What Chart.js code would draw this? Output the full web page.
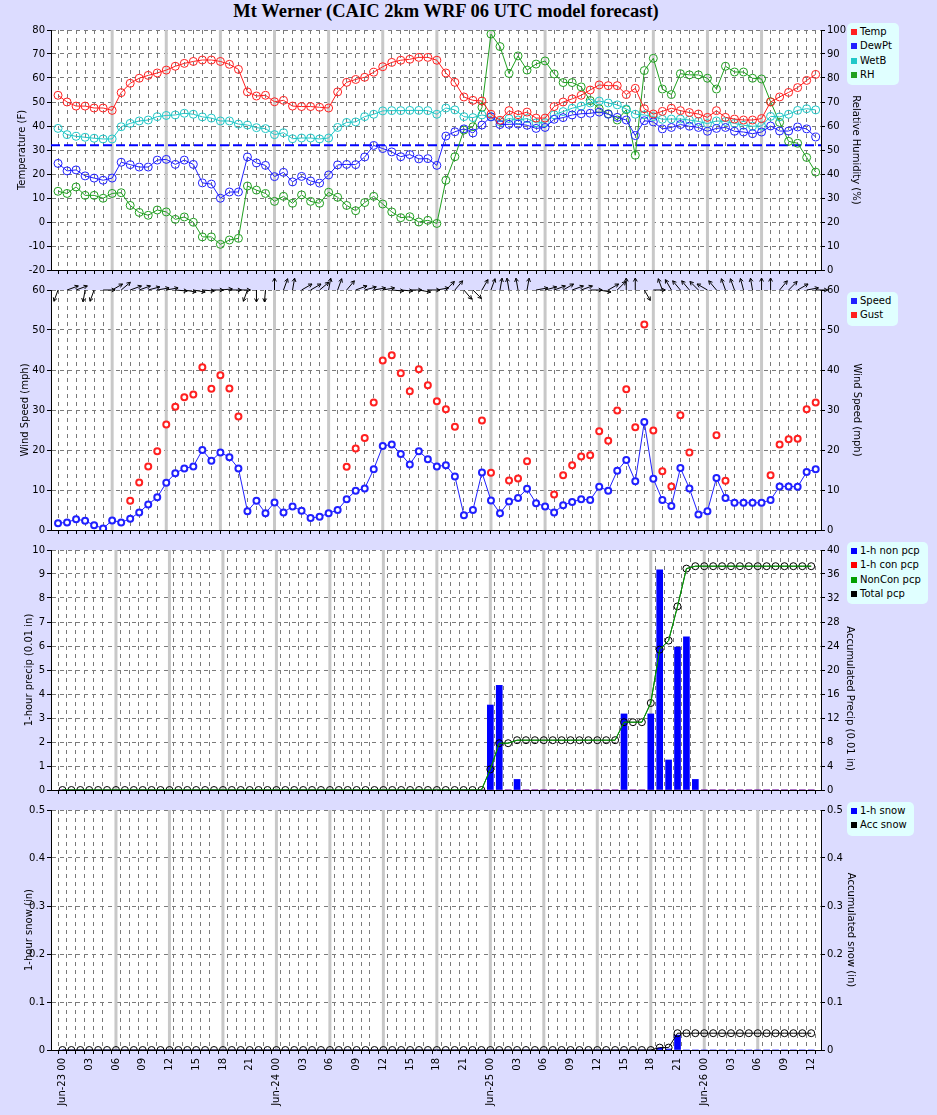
<!DOCTYPE html>
<html>
<head>
<meta charset="utf-8">
<script src="https://cdn.jsdelivr.net/npm/chart.js@4.4.0/dist/chart.umd.min.js"></script>
<style>
  body { margin: 0; width: 937px; height: 1115px; background: #dcdcff; position: relative; overflow: hidden; font-family: "DejaVu Sans", sans-serif; }
  canvas { position: absolute; left: 0; }
  #title { position: absolute; top: 1px; left: 0; width: 892px; text-align: center; font: bold 18.5px "Liberation Serif", serif; }
  .legend { position: absolute; background: #e0ffff; border-radius: 5px; padding: 2px 7px 3px 4px; font-size: 10px; line-height: 14.3px; }
  .legend span { display: inline-block; width: 6px; height: 6px; margin-right: 3px; }
</style>
</head>
<body>
<div id="title">Mt Werner (CAIC 2km WRF 06 UTC model forecast)</div>
<script>
// hours since Jun-23 00 UTC
const hours = Array.from({ length: 85 }, (_, i) => i);
const days = ["Jun-23", "Jun-24", "Jun-25", "Jun-26"];
const FREEZING_F = 32;

const temp = [
  52.8, 50.0, 48.3, 48.3, 47.5, 47.5, 46.5, 53.9, 57.8, 59.9, 61.1, 62.1,
  63.3, 64.9, 66.1, 66.9, 67.5, 67.5, 66.9, 65.7, 63.6, 54.2, 52.5, 52.8,
  50.1, 50.7, 48.3, 48.1, 48.1, 47.8, 47.5, 54.2, 58.2, 59.4, 60.3, 62.4,
  64.7, 66.5, 67.4, 67.8, 68.6, 68.6, 67.4, 62.1, 58.2, 52.1, 50.7, 50.4,
  44.9, 42.4, 46.4, 44.7, 45.8, 43.3, 43.3, 48.1, 50.0, 51.3, 52.8, 55.0,
  57.1, 56.8, 56.8, 53.1, 55.7, 47.2, 45.0, 46.1, 47.4, 46.4, 45.6, 45.0,
  43.6, 46.4, 43.6, 42.9, 42.5, 42.5, 43.1, 50.0, 52.1, 54.0, 56.0, 59.0,
  61.5
];
const dewPt = [
  24.4, 21.3, 21.7, 19.2, 18.3, 17.4, 18.3, 24.9, 23.9, 22.9, 22.9, 25.8,
  26.1, 24.0, 25.8, 24.0, 16.3, 15.8, 9.9, 12.5, 12.5, 27.1, 24.6, 23.6,
  18.9, 20.7, 16.7, 19.0, 17.1, 16.2, 19.6, 23.8, 24.0, 23.9, 27.1, 31.9,
  30.6, 29.2, 27.2, 28.1, 26.3, 26.4, 23.6, 35.8, 37.6, 38.8, 37.1, 40.4,
  43.8, 40.6, 40.7, 40.8, 40.3, 39.0, 39.4, 42.8, 43.5, 44.6, 45.1, 45.3,
  45.8, 44.9, 43.6, 42.5, 36.0, 42.2, 41.7, 38.8, 39.4, 40.6, 39.9, 39.4,
  37.8, 39.0, 39.4, 37.8, 37.5, 36.8, 37.5, 40.0, 37.9, 37.9, 39.6, 38.8,
  35.4
];
const wetBulb = [
  39.0, 36.4, 35.7, 35.3, 34.9, 34.6, 34.6, 39.7, 41.1, 42.1, 42.5, 43.9,
  44.4, 44.6, 45.3, 44.9, 43.8, 43.3, 42.1, 42.1, 40.8, 40.4, 39.3, 38.9,
  36.4, 37.2, 34.7, 35.0, 35.0, 34.6, 35.0, 39.4, 41.5, 41.7, 43.9, 44.9,
  46.3, 46.4, 46.4, 46.5, 46.5, 46.4, 44.9, 47.5, 46.7, 43.9, 43.5, 44.6,
  43.9, 41.8, 43.1, 42.5, 43.1, 41.3, 41.4, 44.7, 46.0, 47.4, 48.3, 49.6,
  50.4, 49.6, 48.8, 47.1, 44.9, 44.6, 43.9, 42.8, 42.9, 42.9, 42.5, 41.9,
  41.0, 42.1, 41.9, 41.1, 40.3, 39.9, 40.0, 44.0, 43.8, 44.9, 46.5, 47.2,
  46.7
];
const relHum = [
  32.8, 31.9, 34.6, 31.1, 31.1, 29.9, 31.9, 32.2, 26.9, 24.0, 22.8, 25.0,
  24.2, 21.1, 22.1, 19.9, 13.8, 13.8, 10.7, 12.5, 13.2, 35.0, 33.3, 31.9,
  28.6, 30.7, 27.8, 31.3, 28.6, 27.8, 32.4, 30.3, 26.9, 24.7, 28.1, 30.7,
  27.5, 24.2, 21.8, 22.2, 20.0, 20.7, 19.4, 37.4, 47.2, 58.3, 59.7, 67.8,
  98.3, 93.1, 81.9, 89.2, 83.3, 85.8, 87.1, 81.7, 78.1, 78.1, 76.3, 70.6,
  67.2, 65.1, 62.5, 66.8, 47.8, 83.1, 88.2, 75.4, 73.1, 81.8, 81.3, 81.3,
  79.9, 75.4, 84.9, 82.5, 82.5, 79.9, 79.6, 70.1, 61.5, 53.6, 52.8, 46.9,
  40.8
];

const windSpeed = [
  1.7, 1.9, 2.7, 2.3, 1.2, 0.4, 2.4, 1.9, 2.8, 4.4, 6.4, 8.2,
  11.8, 14.2, 15.4, 15.9, 20.0, 17.3, 19.4, 18.2, 15.4, 4.7, 7.3, 4.2,
  6.9, 4.4, 5.9, 4.8, 3.0, 3.3, 4.2, 5.0, 7.7, 9.8, 10.4, 15.2,
  21.0, 21.4, 19.0, 16.4, 19.7, 17.7, 15.9, 16.2, 13.4, 3.7, 5.0, 14.4,
  7.4, 4.2, 7.1, 8.0, 10.3, 6.7, 5.9, 4.4, 6.2, 7.0, 7.7, 7.5,
  10.8, 9.8, 14.8, 17.5, 12.2, 27.0, 12.8, 7.5, 6.0, 15.5, 10.4, 3.9,
  4.7, 13.0, 8.0, 6.8, 6.8, 6.8, 6.8, 7.5, 10.9, 10.9, 10.8, 14.5,
  15.2
];
const windGust = [
  null, null, null, null, null, null, null, null, 7.3, 11.9, 15.9, 19.7,
  26.4, 30.8, 33.2, 33.9, 40.7, 35.3, 38.7, 35.4, 28.4, null, null, null,
  null, null, null, null, null, null, null, null, 15.8, 20.4, 23.0, 31.9,
  42.4, 43.7, 39.2, 34.7, 40.2, 36.2, 32.2, 30.2, 25.8, null, null, 27.4,
  14.3, null, 12.4, 12.9, 17.2, null, null, 8.9, 13.7, 16.2, 18.4, 18.7,
  24.7, 22.3, 29.9, 35.2, 25.7, 51.4, 24.9, 14.7, 10.9, 28.7, 19.4, null,
  null, 23.7, 12.3, null, null, null, null, 13.7, 21.4, 22.7, 22.8, 30.2,
  31.9
];
// direction each wind arrow points to, degrees clockwise from up
const windDir = [
  200, 70, 70, 190, 200, 90, 60, 50, 70, 70, 75, 80,
  80, 95, 100, 100, 95, 90, 85, 90, 90, 200, 180, 185,
  0, 20, 10, 60, 60, 50, 10, 20, 40, 70, 75, 80,
  80, 95, 95, 90, 100, 90, 80, 45, 40, 140, 135, 30,
  20, 10, 350, 350, 10, 80, 75, 70, 60, 70, 70, 90,
  100, 60, 45, 0, 0, 150, 90, 340, 330, 320, 320, 315,
  300, 320, 340, 340, 345, 350, 0, 0, 40, 45, 60, 80,
  90
];

const pcpNon = [
  0, 0, 0, 0, 0, 0, 0, 0, 0, 0, 0, 0,
  0, 0, 0, 0, 0, 0, 0, 0, 0, 0, 0, 0,
  0, 0, 0, 0, 0, 0, 0, 0, 0, 0, 0, 0,
  0, 0, 0, 0, 0, 0, 0, 0, 0, 0, 0, 0,
  3.54, 4.36, 0, 0.44, 0, 0, 0, 0, 0, 0, 0, 0,
  0, 0, 0, 3.17, 0, 0, 3.17, 9.17, 1.25, 5.96, 6.38, 0.44,
  0, 0, 0, 0, 0, 0, 0, 0, 0, 0, 0, 0,
  0
];
const pcpCon = [
  0, 0, 0, 0, 0, 0, 0, 0, 0, 0, 0, 0,
  0, 0, 0, 0, 0, 0, 0, 0, 0, 0, 0, 0,
  0, 0, 0, 0, 0, 0, 0, 0, 0, 0, 0, 0,
  0, 0, 0, 0, 0, 0, 0, 0, 0, 0, 0, 0,
  0, 0, 0, 0, 0, 0, 0, 0, 0, 0, 0, 0,
  0, 0, 0, 0, 0, 0, 0, 0, 0, 0, 0, 0,
  0, 0, 0, 0, 0, 0, 0, 0, 0, 0, 0, 0,
  0
];
const pcpTotal = [
  0, 0, 0, 0, 0, 0, 0, 0, 0, 0, 0, 0,
  0, 0, 0, 0, 0, 0, 0, 0, 0, 0, 0, 0,
  0, 0, 0, 0, 0, 0, 0, 0, 0, 0, 0, 0,
  0, 0, 0, 0, 0, 0, 0, 0, 0, 0, 0, 0,
  3.44, 7.8, 7.8, 8.3, 8.3, 8.3, 8.3, 8.3, 8.3, 8.3, 8.3, 8.3,
  8.3, 8.3, 8.3, 11.3, 11.3, 11.3, 14.5, 23.4, 24.9, 30.6, 36.9, 37.3,
  37.3, 37.3, 37.3, 37.3, 37.3, 37.3, 37.3, 37.3, 37.3, 37.3, 37.3, 37.3,
  37.3
];
const pcpNonCon = pcpTotal; // no convective precip, so the two totals coincide

const snow1h = [
  0, 0, 0, 0, 0, 0, 0, 0, 0, 0, 0, 0,
  0, 0, 0, 0, 0, 0, 0, 0, 0, 0, 0, 0,
  0, 0, 0, 0, 0, 0, 0, 0, 0, 0, 0, 0,
  0, 0, 0, 0, 0, 0, 0, 0, 0, 0, 0, 0,
  0, 0, 0, 0, 0, 0, 0, 0, 0, 0, 0, 0,
  0, 0, 0, 0, 0, 0, 0, 0.004, 0.002, 0.031, 0, 0,
  0, 0, 0, 0, 0, 0, 0, 0, 0, 0, 0, 0,
  0
];
const snowAcc = [
  0, 0, 0, 0, 0, 0, 0, 0, 0, 0, 0, 0,
  0, 0, 0, 0, 0, 0, 0, 0, 0, 0, 0, 0,
  0, 0, 0, 0, 0, 0, 0, 0, 0, 0, 0, 0,
  0, 0, 0, 0, 0, 0, 0, 0, 0, 0, 0, 0,
  0, 0, 0, 0, 0, 0, 0, 0, 0, 0, 0, 0,
  0, 0, 0, 0, 0, 0, 0, 0.005, 0.005, 0.035, 0.035, 0.035,
  0.035, 0.035, 0.035, 0.035, 0.035, 0.035, 0.035, 0.035, 0.035, 0.035, 0.035, 0.035,
  0.035
];

// ---- shared styling ----
Chart.defaults.font.family = "'DejaVu Sans', sans-serif";
Chart.defaults.font.size = 10;
Chart.defaults.color = "#000";

const X_MIN = -0.78, X_MAX = 84.59;
const GRID = "#7a7a7a";
const NONE = "rgba(0,0,0,0)";
const isSixHour = h => h % 6 === 0 && h > 0 && h < 84;

function pts(values) {
  return hours.map((h, i) => ({ x: h, y: values[i] }));
}

function hourLabel(v) {
  if (v % 3 !== 0) return "";
  const hh = String(v % 24).padStart(2, "0");
  return v % 24 === 0 ? days[v / 24] + " " + hh : hh;
}

function xAxis(showLabels) {
  return {
    type: "linear", min: X_MIN, max: X_MAX,
    afterFit: s => { s.height = showLabels ? 65 : 10; },
    border: { color: "#000", dash: [4, 4] },
    grid: {
      color: c => (c.tick && isSixHour(c.tick.value)) ? NONE : GRID,
      tickColor: "#000", tickLength: 4
    },
    ticks: {
      display: showLabels, stepSize: 1, autoSkip: false, includeBounds: false,
      minRotation: 90, maxRotation: 90, padding: 4, callback: hourLabel
    }
  };
}

function yAxes(p) {
  return {
    y: {
      position: "left", min: p.min, max: p.max,
      afterFit: s => { s.width = 51 - p.padL; },
      border: { color: "#000", dash: [4, 4] },
      grid: { color: c => (c.tick && c.tick.value === p.min) ? NONE : GRID, tickColor: "#000", tickLength: 4 },
      ticks: { stepSize: p.step, padding: 2 },
      title: { display: true, text: p.title }
    },
    y2: {
      position: "right", min: p.min2, max: p.max2,
      afterFit: s => { s.width = p.rightW; },
      border: { color: "#000" },
      grid: { drawOnChartArea: false, tickColor: "#000", tickLength: 4 },
      ticks: { stepSize: p.step2, padding: 2 },
      title: { display: true, text: p.title2, align: p.align2 || "center" }
    }
  };
}

const plotBg = {
  id: "plotBg",
  beforeDraw(chart) {
    const { ctx, chartArea: a } = chart;
    ctx.save();
    ctx.fillStyle = "#fff";
    ctx.fillRect(a.left, a.top, a.right - a.left, a.bottom - a.top);
    ctx.restore();
  }
};

// solid grey line every 6 hours
const sixHourLines = {
  id: "sixHourLines",
  beforeDatasetsDraw(chart) {
    const { ctx, chartArea: a, scales } = chart;
    ctx.save();
    ctx.fillStyle = "#c8c8c8";
    hours.filter(isSixHour).forEach(h => {
      const x = scales.x.getPixelForValue(h);
      ctx.fillRect(x - 1.5, a.top, 3, a.bottom - a.top);
    });
    ctx.restore();
  }
};

const freezeLine = {
  id: "freezeLine",
  beforeDatasetsDraw(chart) {
    const { ctx, chartArea: a, scales } = chart;
    const y = scales.y.getPixelForValue(FREEZING_F);
    ctx.save();
    ctx.strokeStyle = "#0000ff";
    ctx.lineWidth = 2;
    ctx.setLineDash([9, 4]);
    ctx.beginPath();
    ctx.moveTo(a.left, y);
    ctx.lineTo(a.right, y);
    ctx.stroke();
    ctx.restore();
  }
};

const windArrows = {
  id: "windArrows",
  afterDatasetsDraw(chart) {
    const { ctx, scales } = chart;
    const y0 = scales.y.getPixelForValue(scales.y.max);
    const len = 12, head = 4;
    ctx.save();
    ctx.strokeStyle = "#000";
    ctx.lineWidth = 1;
    windDir.forEach((d, i) => {
      const x0 = scales.x.getPixelForValue(hours[i]);
      const a = d * Math.PI / 180;
      const x1 = x0 + len * Math.sin(a), y1 = y0 - len * Math.cos(a);
      ctx.beginPath();
      ctx.moveTo(x0, y0);
      ctx.lineTo(x1, y1);
      for (const s of [-0.5, 0.5]) {
        const b = a + Math.PI + s;
        ctx.moveTo(x1, y1);
        ctx.lineTo(x1 + head * Math.sin(b), y1 - head * Math.cos(b));
      }
      ctx.stroke();
    });
    ctx.restore();
  }
};

function makeCanvas(top, height) {
  const c = document.createElement("canvas");
  c.width = 937;
  c.height = height;
  c.style.top = top + "px";
  document.body.appendChild(c);
  return c.getContext("2d");
}

function htmlLegend(chart, left, top) {
  const box = document.createElement("div");
  box.className = "legend";
  box.style.left = left + "px";
  box.style.top = top + "px";
  chart.data.datasets.forEach(ds => {
    const row = document.createElement("div");
    const sw = document.createElement("span");
    sw.style.background = ds.type === "bar" ? ds.backgroundColor : (ds.pointBorderColor || ds.borderColor);
    row.appendChild(sw);
    row.appendChild(document.createTextNode(ds.label));
    box.appendChild(row);
  });
  document.body.appendChild(box);
}

function baseOptions(p, showLabels) {
  return {
    responsive: false, animation: false, devicePixelRatio: 1, events: [],
    layout: { padding: { top: 20, left: p.padL, right: 937 - 821 - p.rightW, bottom: 0 } },
    plugins: { legend: { display: false }, tooltip: { enabled: false } },
    elements: { line: { tension: 0, borderWidth: 1 } },
    scales: Object.assign({ x: xAxis(showLabels) }, yAxes(p))
  };
}

function lineSet(label, values, color, extra) {
  return Object.assign({
    type: "line", label, data: pts(values),
    borderColor: color, pointBorderColor: color, pointBackgroundColor: NONE,
    pointRadius: 4, pointBorderWidth: 1, yAxisID: "y"
  }, extra || {});
}

// ---- panel 1: temperature / RH ----
const c1 = new Chart(makeCanvas(10, 270), {
  type: "line",
  data: {
    datasets: [
      lineSet("Temp", temp, "#ff2020"),
      lineSet("DewPt", dewPt, "#2020ff"),
      lineSet("WetB", wetBulb, "#20c8c8"),
      lineSet("RH", relHum, "#20a020", { yAxisID: "y2" })
    ]
  },
  options: baseOptions({
    min: -20, max: 80, step: 10, title: "Temperature (F)", padL: 12,
    min2: 0, max2: 100, step2: 10, title2: "Relative Humidity (%)", rightW: 45
  }, false),
  plugins: [plotBg, sixHourLines, freezeLine]
});
htmlLegend(c1, 847, 23);

// ---- panel 2: wind ----
const c2 = new Chart(makeCanvas(270, 270), {
  type: "line",
  data: {
    datasets: [
      lineSet("Speed", windSpeed, "#2020ff", { pointRadius: 3, pointBorderWidth: 2, pointBackgroundColor: "#fff" }),
      lineSet("Gust", windGust, "#ff2020", { showLine: false, pointRadius: 3, pointBorderWidth: 2, pointBackgroundColor: "#fff" })
    ]
  },
  options: baseOptions({
    min: 0, max: 60, step: 10, title: "Wind Speed (mph)", padL: 15,
    min2: 0, max2: 60, step2: 10, title2: "Wind Speed (mph)", rightW: 46
  }, false),
  plugins: [plotBg, sixHourLines, windArrows]
});
htmlLegend(c2, 847, 292);

// ---- panel 3: precipitation ----
const c3 = new Chart(makeCanvas(530, 270), {
  type: "bar",
  data: {
    datasets: [
      { type: "bar", label: "1-h non pcp", data: pts(pcpNon), backgroundColor: "#0000ff", barThickness: 6, grouped: false, order: 1, yAxisID: "y" },
      { type: "bar", label: "1-h con pcp", data: pts(pcpCon), backgroundColor: "#ff0000", barThickness: 6, grouped: false, order: 1, yAxisID: "y" },
      lineSet("NonCon pcp", pcpNonCon, "#00a000", { pointRadius: 0, yAxisID: "y2", order: 0 }),
      lineSet("Total pcp", pcpTotal, "#0b3d0b", { pointBorderColor: "#000", pointRadius: 3.5, yAxisID: "y2", order: 0 })
    ]
  },
  options: baseOptions({
    min: 0, max: 10, step: 1, title: "1-hour precip (0.01 in)", padL: 19,
    min2: 0, max2: 40, step2: 4, title2: "Accumulated Precip (0.01 in)\u00a0\u00a0\u00a0\u00a0\u00a0\u00a0", align2: "start", rightW: 39
  }, false),
  plugins: [plotBg, sixHourLines]
});
htmlLegend(c3, 847, 542);

// ---- panel 4: snow ----
const c4 = new Chart(makeCanvas(790, 325), {
  type: "bar",
  data: {
    datasets: [
      { type: "bar", label: "1-h snow", data: pts(snow1h), backgroundColor: "#0000ff", barThickness: 6, grouped: false, order: 1, yAxisID: "y" },
      lineSet("Acc snow", snowAcc, "#000", { pointRadius: 3.5, yAxisID: "y2", order: 0 })
    ]
  },
  options: baseOptions({
    min: 0, max: 0.5, step: 0.1, title: "1-hour snow (in)", padL: 19,
    min2: 0, max2: 0.5, step2: 0.1, title2: "Accumulated snow (in)", rightW: 40
  }, true),
  plugins: [plotBg, sixHourLines]
});
htmlLegend(c4, 847, 802);
</script>
</body>
</html>
